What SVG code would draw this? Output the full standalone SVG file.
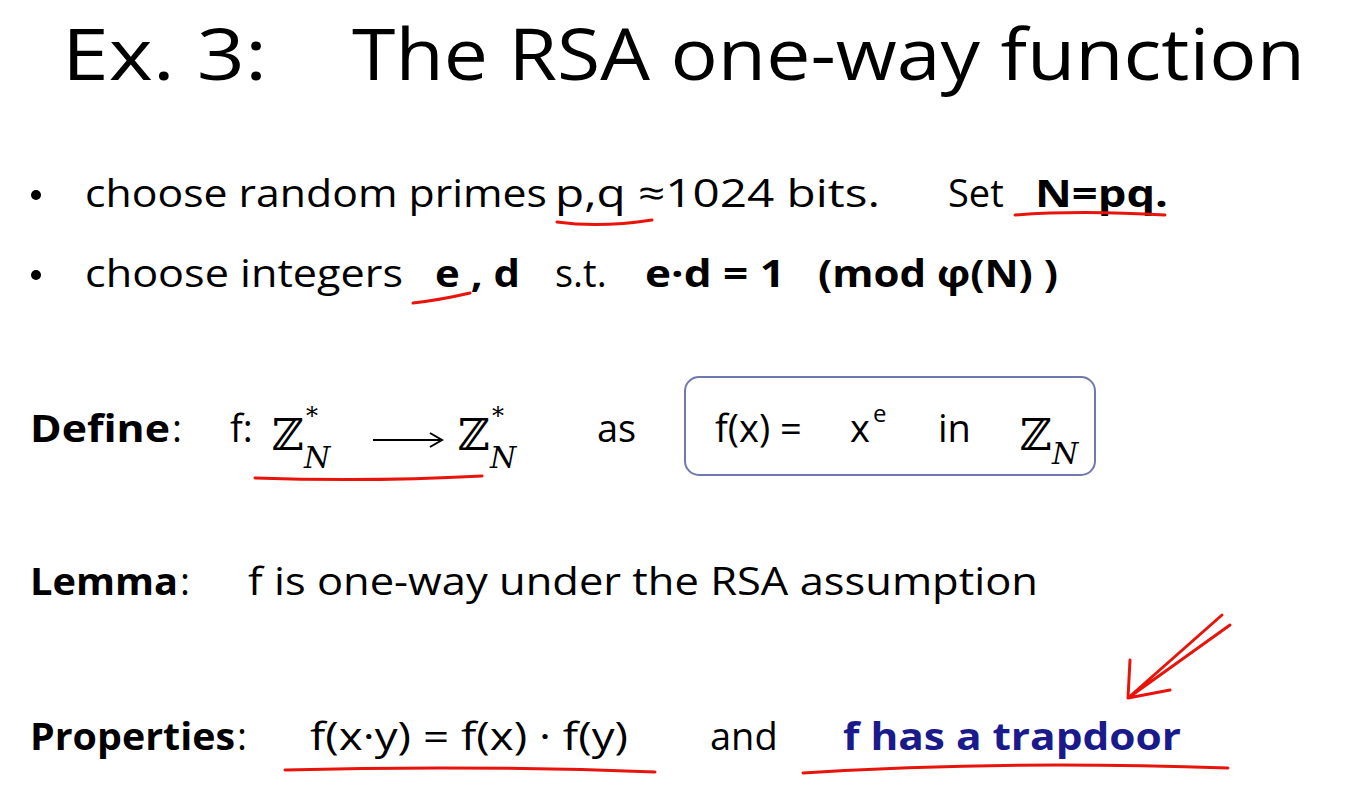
<svg xmlns="http://www.w3.org/2000/svg" width="1353" height="790" viewBox="0 0 1353 790">
<style>
text{font-family:"Open Sans","Liberation Sans",sans-serif;fill:#000}
.b{font-size:38px}
.bd{font-weight:bold}
.m{font-family:"DejaVu Serif","Liberation Serif",serif;font-size:44px}
.s{font-family:"DejaVu Serif","Liberation Serif",serif;font-size:24px}
.n{font-family:"DejaVu Serif","Liberation Serif",serif;font-size:30px;font-style:italic}
.r{fill:none;stroke:#e8140c;stroke-width:3;stroke-linecap:round}
</style>
<rect width="1353" height="790" fill="#fff"/>
<text x="62" y="80" font-size="72" textLength="205" lengthAdjust="spacingAndGlyphs">Ex. 3:</text>
<text x="352" y="80" font-size="72" textLength="953" lengthAdjust="spacingAndGlyphs">The RSA one-way function</text>
<circle cx="36" cy="195" r="5"/>
<circle cx="36" cy="275" r="5"/>
<text class="b" x="85" y="207" textLength="462" lengthAdjust="spacingAndGlyphs">choose random primes</text>
<text class="b" x="555" y="207" textLength="325" lengthAdjust="spacingAndGlyphs">p,q ≈1024 bits.</text>
<text class="b" x="948" y="207">Set</text>
<text class="b bd" x="1035" y="207" textLength="133" lengthAdjust="spacingAndGlyphs">N=pq.</text>
<text class="b" x="85" y="287" textLength="318" lengthAdjust="spacingAndGlyphs">choose integers</text>
<text class="b bd" x="435" y="287" textLength="85" lengthAdjust="spacingAndGlyphs">e , d</text>
<text class="b" x="555" y="287">s.t.</text>
<text class="b bd" x="645" y="287" textLength="140" lengthAdjust="spacingAndGlyphs">e·d = 1</text>
<text class="b bd" x="818" y="287" textLength="240" lengthAdjust="spacingAndGlyphs">(mod φ(N) )</text>
<text class="b bd" x="30" y="442" textLength="140" lengthAdjust="spacingAndGlyphs">Define</text>
<text class="b" x="172" y="442">:</text>
<text class="b" x="230" y="442">f:</text>
<text class="m" x="272" y="450">ℤ</text><text class="s" x="306" y="424">*</text><text class="n" x="304" y="468">N</text>
<path d="M373 440 H440 M430 433 L442 440 L430 447" fill="none" stroke="#000" stroke-width="2"/>
<text class="m" x="458" y="450">ℤ</text><text class="s" x="492" y="424">*</text><text class="n" x="490" y="468">N</text>
<text class="b" x="597" y="442">as</text>
<rect x="685" y="377" width="410" height="98" rx="14" fill="none" stroke="#7078b0" stroke-width="2"/>
<text class="b" x="715" y="442">f(x) =</text>
<text class="b" x="850" y="442">x</text><text x="873" y="422" font-size="24">e</text>
<text class="b" x="938" y="442">in</text>
<text class="m" x="1020" y="450">ℤ</text><text class="n" x="1052" y="464">N</text>
<text class="b bd" x="30" y="595" textLength="148" lengthAdjust="spacingAndGlyphs">Lemma</text>
<text class="b" x="180" y="595">:</text>
<text class="b" x="248" y="595" textLength="790" lengthAdjust="spacingAndGlyphs">f is one-way under the RSA assumption</text>
<text class="b bd" x="30" y="750" textLength="205" lengthAdjust="spacingAndGlyphs">Properties</text>
<text class="b" x="237" y="750">:</text>
<text class="b" x="310" y="750" textLength="318" lengthAdjust="spacingAndGlyphs">f(x·y) = f(x) · f(y)</text>
<text class="b" x="710" y="750">and</text>
<text class="b bd" x="843" y="750" style="fill:#1a1a8c" textLength="338" lengthAdjust="spacingAndGlyphs">f  has a trapdoor</text>
<g class="r">
<path d="M557 222 Q600 228 652 220"/>
<path d="M1015 215 Q1080 210 1165 215"/>
<path d="M413 303 Q440 300 470 293"/>
<path d="M255 478 Q370 482 482 476"/>
<path d="M285 770 Q470 765 655 772"/>
<path d="M803 773 Q1000 760 1228 768"/>
<path d="M1128 698 L1222 615 M1128 698 L1230 625 M1128 698 L1130 660 M1128 698 L1170 690"/>
</g>
</svg>
